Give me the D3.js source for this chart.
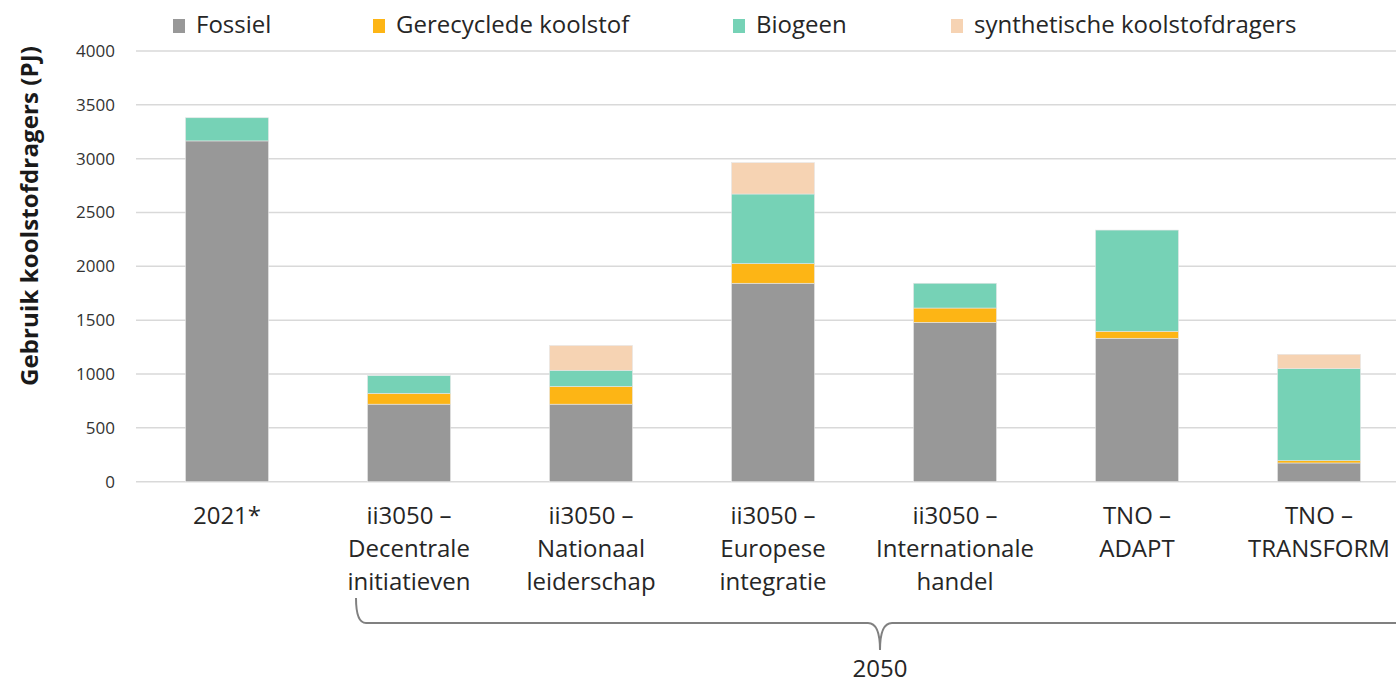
<!DOCTYPE html>
<html>
<head>
<meta charset="utf-8">
<script src="https://cdn.jsdelivr.net/npm/d3@7"></script>
<style>
  body { margin: 0; background: #fff; }
  svg { display: block; font-family: "Open Sans", sans-serif; }
</style>
</head>
<body>
<div id="chart"></div>
<script>
// data (PJ)
const categories = ["2021", "dec", "nat", "eur", "int", "adapt", "transform"];
const categoryLabels = [
    ["2021*"],
    ["ii3050 –", "Decentrale", "initiatieven"],
    ["ii3050 –", "Nationaal", "leiderschap"],
    ["ii3050 –", "Europese", "integratie"],
    ["ii3050 –", "Internationale", "handel"],
    ["TNO –", "ADAPT"],
    ["TNO –", "TRANSFORM"]
];
const seriesNames = ["Fossiel", "Gerecyclede koolstof", "Biogeen", "synthetische koolstofdragers"];
const fossiel     = [3165, 720, 720, 1843, 1480, 1332, 174];
const gerecycled  = [0, 100, 165, 182, 133, 65, 21];
const biogeen     = [215, 165, 150, 647, 230, 940, 855];
const synthetisch = [0, 0, 230, 291, 0, 0, 133];
const yTicks = [0, 500, 1000, 1500, 2000, 2500, 3000, 3500, 4000];
const colors = ["#989898", "#fdb515", "#76d2b6", "#f6d3b3"];

const W = 1396, H = 684;
const legendX = [173, 373, 733, 951];

const svg = d3.select("#chart").append("svg")
    .attr("width", W)
    .attr("height", H);

let table = categories.map(function(c, i) {
    return {cat: c, Fossiel: fossiel[i], "Gerecyclede koolstof": gerecycled[i],
            Biogeen: biogeen[i], "synthetische koolstofdragers": synthetisch[i]};
});
let stacked = d3.stack().keys(seriesNames)(table);

let x = d3.scaleBand()
    .domain(categories)
    .range([136, 136 + 7 * 182])
    .paddingInner(0.544)
    .paddingOuter(0.272);
let y = d3.scaleLinear()
    .domain([0, 4000])
    .range([481.7, 51]);

// grid
svg.append("g")
    .selectAll("line")
    .data(yTicks)
    .enter()
    .append("line")
    .attr("x1", 136)
    .attr("x2", W)
    .attr("y1", function(d) { return y(d); })
    .attr("y2", function(d) { return y(d); })
    .attr("stroke", "#d9d9d9")
    .attr("stroke-width", 1.5);

// y axis labels
let yAxis = svg.append("g")
    .attr("transform", "translate(122,0)")
    .call(d3.axisLeft(y).tickValues(yTicks).tickFormat(d3.format("d")).tickSize(0).tickPadding(7));
yAxis.select(".domain").remove();
yAxis.selectAll("text")
    .attr("font-family", "Open Sans, sans-serif")
    .attr("font-size", "17px")
    .attr("fill", "#333");

svg.append("text")
    .attr("transform", "translate(38,216) rotate(-90)")
    .attr("text-anchor", "middle")
    .attr("font-size", "24px")
    .attr("font-weight", "bold")
    .attr("fill", "#1a1a1a")
    .attr("textLength", 340)
    .attr("lengthAdjust", "spacing")
    .text("Gebruik koolstofdragers (PJ)");

// bars
svg.append("g")
    .selectAll("g")
    .data(stacked)
    .enter()
    .append("g")
    .attr("fill", function(d, i) { return colors[i]; })
    .selectAll("rect")
    .data(function(d) { return d; })
    .enter()
    .append("rect")
    .attr("x", function(d) { return x(d.data.cat); })
    .attr("width", x.bandwidth())
    .attr("y", function(d) { return y(d[1]); })
    .attr("height", function(d) { return y(d[0]) - y(d[1]); })
    .attr("stroke", "#e6e6e6")
    .attr("stroke-width", function(d) { return d[1] > d[0] ? 0.6 : 0; });

// category labels
let lab = svg.append("g")
    .selectAll("text")
    .data(categories)
    .enter()
    .append("text")
    .attr("text-anchor", "middle")
    .attr("font-size", "24px")
    .attr("fill", "#262626");
lab.selectAll("tspan")
    .data(function(d, i) { return categoryLabels[i]; })
    .enter()
    .append("tspan")
    .attr("x", function() { return x(d3.select(this.parentNode).datum()) + x.bandwidth() / 2; })
    .attr("y", function(d, j) { return 524 + j * 33; })
    .text(function(d) { return d; });

// brace under the 2050 scenarios
let bx0 = x("dec") + x.bandwidth() / 2 - 53;
let bmid = 880;
svg.append("path")
    .attr("d", "M" + bx0 + ",598 Q" + bx0 + ",623 " + (bx0 + 10) + ",623 L" + (bmid - 12) + ",623 Q" + bmid + ",623 " + bmid + ",650 Q" + bmid + ",623 " + (bmid + 12) + ",623 L" + (W + 10) + ",623")
    .attr("fill", "none")
    .attr("stroke", "#808080")
    .attr("stroke-width", 2);
svg.append("text")
    .attr("x", bmid)
    .attr("y", 677)
    .attr("text-anchor", "middle")
    .attr("font-size", "24px")
    .attr("fill", "#262626")
    .text("2050");

// legend
seriesNames.forEach(function(name, i) {
    svg.append("rect")
        .attr("x", legendX[i])
        .attr("y", 19)
        .attr("width", 12)
        .attr("height", 14)
        .attr("fill", colors[i]);
    svg.append("text")
        .attr("x", legendX[i] + 23)
        .attr("y", 33)
        .attr("font-size", "24px")
        .attr("fill", "#262626")
        .text(name);
});
</script>
</body>
</html>
